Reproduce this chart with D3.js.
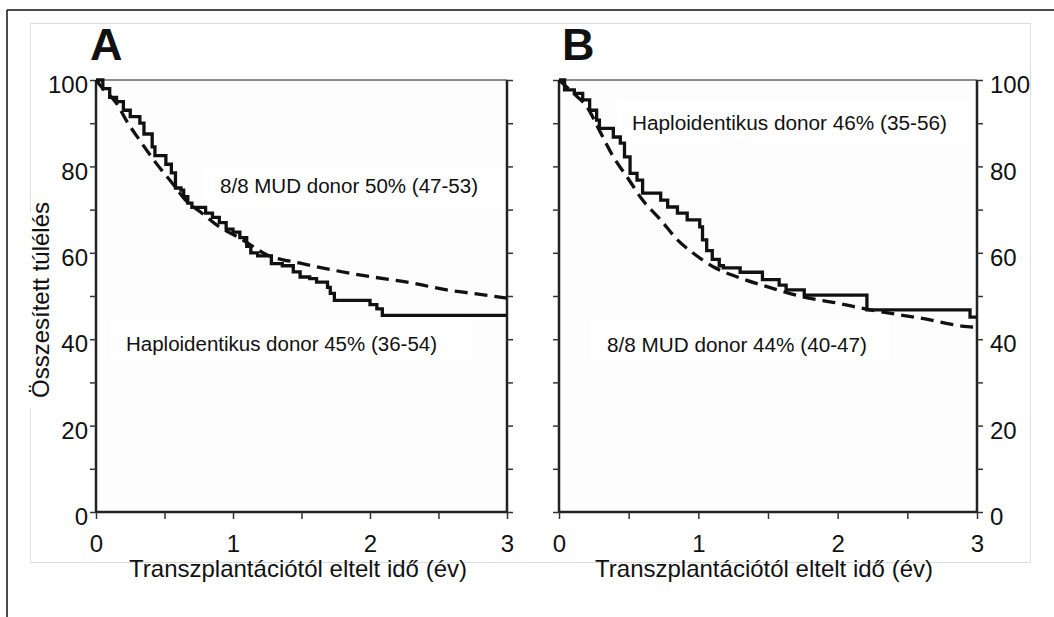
<!DOCTYPE html>
<html lang="hu">
<head>
<meta charset="utf-8">
<title>Összesített túlélés</title>
<script src="https://cdn.jsdelivr.net/npm/d3@7"></script>
<style>
  body { margin: 0; background: #fff; }
  svg text { font-family: "Liberation Sans", Arial, sans-serif; fill: #111; }
  .tick text { font-size: 24px; }
  .tick line { stroke: #333; stroke-width: 1.5px; }
  .anno { font-size: 20.5px; }
  .axisTitle { font-size: 24px; }
  .panelLabel { font-size: 45px; font-weight: bold; }
</style>
</head>
<body>
<svg id="chart" width="1054" height="617"></svg>
<script>
// ---- data (time in years, overall survival in %) ----
// panel A
var aHaploTime = [0, 0.05, 0.10, 0.15, 0.20, 0.25, 0.32, 0.35, 0.41, 0.43, 0.51, 0.55, 0.58, 0.62, 0.64, 0.67, 0.70, 0.80, 0.85, 0.90, 0.95, 1.00, 1.05, 1.10, 1.13, 1.18, 1.28, 1.36, 1.44, 1.49, 1.56, 1.61, 1.69, 1.71, 1.74, 2.00, 2.05, 2.09, 3.00];
var aHaploSurv = [100, 98, 96, 95, 93, 91.5, 90, 87.5, 84.5, 82.5, 80.5, 78.5, 75, 74.5, 73, 71.5, 70.5, 69.2, 68.2, 67, 65.5, 64.8, 63.5, 61.5, 60, 59.3, 57.5, 57, 55.6, 54.4, 54, 53.2, 52, 50.6, 49, 48, 47, 45.5, 45.5];
var aMudTime = [0, 0.05, 0.15, 0.22, 0.32, 0.44, 0.56, 0.66, 0.76, 0.90, 1.05, 1.25, 1.49, 1.73, 2.02, 2.31, 2.56, 2.75, 3.00];
var aMudSurv = [100, 98, 94.6, 90.7, 86, 80.7, 76, 72, 69.5, 66, 63.4, 59.5, 57.6, 56, 54.4, 53, 51.4, 50.6, 49.5];
// panel B
var bHaploTime = [0, 0.04, 0.11, 0.17, 0.22, 0.27, 0.29, 0.39, 0.44, 0.47, 0.51, 0.56, 0.60, 0.73, 0.78, 0.85, 0.92, 1.01, 1.03, 1.06, 1.10, 1.15, 1.18, 1.30, 1.46, 1.58, 1.63, 1.76, 2.21, 2.95, 3.00];
var bHaploSurv = [100, 97.7, 96.9, 95.4, 93, 90.7, 88.8, 86.8, 85.4, 82.2, 78.4, 76.8, 73.8, 72.2, 70.6, 69.2, 67.6, 66, 63, 60.5, 58.5, 57, 56.5, 55.5, 53.8, 52.5, 51.4, 50.2, 46.8, 45.1, 45.1];
var bMudTime = [0, 0.10, 0.20, 0.30, 0.39, 0.49, 0.60, 0.73, 0.85, 0.96, 1.11, 1.28, 1.51, 1.75, 1.99, 2.23, 2.59, 2.93, 3.00];
var bMudSurv = [100, 97, 93.8, 87.7, 82.2, 77.5, 72.2, 67.6, 63, 60, 56.7, 54.4, 52, 49.8, 48.4, 46.8, 44.9, 42.9, 42.7];

var survTicks = [0, 10, 20, 30, 40, 50, 60, 70, 80, 90, 100];
var yearTicks = [0, 0.5, 1, 1.5, 2, 2.5, 3];
var xTitle = "Transzplantációtól eltelt idő (év)";
var yTitle = "Összesített túlélés";
var annoA = ["8/8 MUD donor 50% (47-53)", "Haploidentikus donor 45% (36-54)"];
var annoB = ["Haploidentikus donor 46% (35-56)", "8/8 MUD donor 44% (40-47)"];

function zip(t, s) {
  return t.map(function (d, i) { return { t: d, s: s[i] }; });
}

var svg = d3.select("#chart");

// outer frame (top + left edge)
svg.append("line").attr("x1", 7).attr("y1", 10).attr("x2", 1054).attr("y2", 10)
  .attr("stroke", "#111").attr("stroke-width", 1.5);
svg.append("line").attr("x1", 7).attr("y1", 10).attr("x2", 7).attr("y2", 617)
  .attr("stroke", "#111").attr("stroke-width", 1.5);

// pasted figure frame
svg.append("rect").attr("x", 30.5).attr("y", 23.5).attr("width", 1000).attr("height", 539)
  .attr("fill", "#fff").attr("stroke", "#ddd");

var y = d3.scaleLinear().domain([0, 100]).range([512, 80]);

function panel(p) {
  var x = d3.scaleLinear().domain([0, 3]).range([p.x0, p.x1]);
  var g = svg.append("g");

  g.append("rect").attr("x", p.x0).attr("y", y(100)).attr("width", p.x1 - p.x0)
    .attr("height", y(0) - y(100)).attr("fill", "#fdfdfd");

  // white label boxes
  p.boxes.forEach(function (b) {
    g.append("rect").attr("x", b[0]).attr("y", b[1]).attr("width", b[2]).attr("height", b[3])
      .attr("fill", "#fff");
  });

  // frame lines
  g.append("line").attr("x1", p.x0).attr("x2", p.x1).attr("y1", y(100)).attr("y2", y(100))
    .attr("stroke", "#666").attr("stroke-width", 1.5);
  g.append("line").attr("x1", p.x0).attr("x2", p.x1).attr("y1", y(0)).attr("y2", y(0))
    .attr("stroke", "#222").attr("stroke-width", 2.5);
  g.append("line").attr("x1", p.x0).attr("x2", p.x0).attr("y1", y(100)).attr("y2", y(0))
    .attr("stroke", "#222").attr("stroke-width", 2.5);
  g.append("line").attr("x1", p.x1).attr("x2", p.x1).attr("y1", y(100)).attr("y2", y(0))
    .attr("stroke", "#222").attr("stroke-width", 2.5);

  var fmtY = function (d) { return d % 20 === 0 ? d : ""; };

  var left = g.append("g").attr("transform", "translate(" + p.x0 + ",0)")
    .call(d3.axisLeft(y).tickValues(survTicks).tickSize(6).tickSizeOuter(0).tickPadding(2)
      .tickFormat(p.labelSide === "left" ? fmtY : ""));
  var right = g.append("g").attr("transform", "translate(" + p.x1 + ",0)")
    .call(d3.axisRight(y).tickValues(survTicks).tickSize(6).tickSizeOuter(0).tickPadding(7)
      .tickFormat(p.labelSide === "right" ? fmtY : ""));
  var bottom = g.append("g").attr("transform", "translate(0," + y(0) + ")")
    .call(d3.axisBottom(x).tickValues(yearTicks).tickSize(7).tickSizeOuter(0)
      .tickFormat(function (d) { return d % 1 === 0 ? d : ""; }));
  [left, right, bottom].forEach(function (a) {
    a.select(".domain").remove();
    a.attr("font-family", null).attr("font-size", null);
  });
  left.selectAll("text").attr("dy", "0.53em");
  right.selectAll("text").attr("dy", "0.53em");
  bottom.selectAll("text").attr("y", 23).attr("dy", "0.71em");

  // curves
  var stepLine = d3.line().x(function (d) { return x(d.t); }).y(function (d) { return y(d.s); })
    .curve(d3.curveStepAfter);
  var smoothLine = d3.line().x(function (d) { return x(d.t); }).y(function (d) { return y(d.s); })
    .curve(d3.curveMonotoneX);

  g.append("path").datum(zip(p.mudT, p.mudS)).attr("d", smoothLine)
    .attr("fill", "none").attr("stroke", "#111").attr("stroke-width", 3.3)
    .attr("stroke-dasharray", "13,7");
  g.append("path").datum(zip(p.haploT, p.haploS)).attr("d", stepLine)
    .attr("fill", "none").attr("stroke", "#111").attr("stroke-width", 3.3)
    .attr("stroke-linejoin", "miter");

  // annotations
  p.anno.forEach(function (a) {
    g.append("text").attr("class", "anno").attr("x", a.x).attr("y", a.y)
      .attr("textLength", a.w).attr("lengthAdjust", "spacingAndGlyphs").text(a.text);
  });

  g.append("text").attr("class", "panelLabel").attr("x", p.labelX).attr("y", 60).text(p.label);

  g.append("text").attr("class", "axisTitle").attr("x", p.titleX).attr("y", 577)
    .attr("text-anchor", "middle").text(xTitle);
}

panel({
  label: "A", labelX: 90, x0: 96, x1: 507, labelSide: "left", titleX: 298,
  haploT: aHaploTime, haploS: aHaploSurv, mudT: aMudTime, mudS: aMudSurv,
  boxes: [[205, 165, 299, 45], [111, 317, 359, 46]],
  anno: [{ text: annoA[0], x: 220, y: 193, w: 258 }, { text: annoA[1], x: 126, y: 351, w: 311 }]
});
panel({
  label: "B", labelX: 562, x0: 559, x1: 977, labelSide: "right", titleX: 764,
  haploT: bHaploTime, haploS: bHaploSurv, mudT: bMudTime, mudS: bMudSurv,
  boxes: [[617, 100, 356, 43], [590, 320, 300, 43]],
  anno: [{ text: annoB[0], x: 632, y: 130, w: 315 }, { text: annoB[1], x: 607, y: 352, w: 260 }]
});

// y axis title on a white patch
svg.append("rect").attr("x", 27).attr("y", 213).attr("width", 25).attr("height", 195).attr("fill", "#fff");
svg.append("text").attr("class", "axisTitle").attr("font-size", 25)
  .attr("transform", "translate(49,300) rotate(-90)")
  .attr("text-anchor", "middle").text(yTitle);
</script>
</body>
</html>
